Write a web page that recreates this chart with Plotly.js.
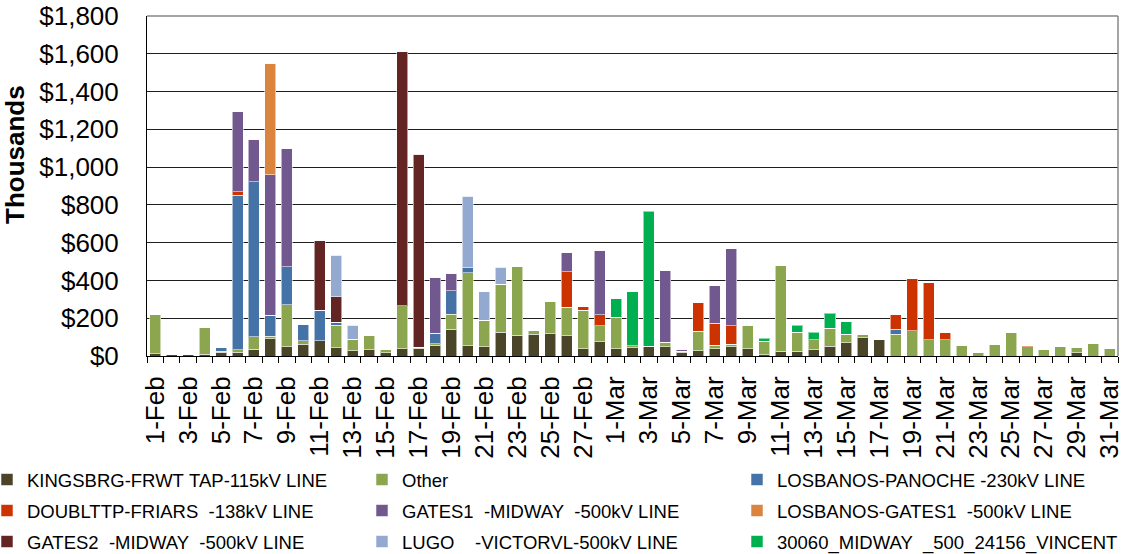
<!DOCTYPE html>
<html><head><meta charset="utf-8">
<script src="https://cdn.plot.ly/plotly-3.0.1.min.js"></script>
<style>html,body{margin:0;padding:0;background:#fff}#chart{width:1122px;height:554px}</style>
</head><body><div id="chart"></div>
<script>
const days = ['1-Feb','2-Feb','3-Feb','4-Feb','5-Feb','6-Feb','7-Feb','8-Feb','9-Feb','10-Feb',
'11-Feb','12-Feb','13-Feb','14-Feb','15-Feb','16-Feb','17-Feb','18-Feb','19-Feb','20-Feb',
'21-Feb','22-Feb','23-Feb','24-Feb','25-Feb','26-Feb','27-Feb','28-Feb',
'1-Mar','2-Mar','3-Mar','4-Mar','5-Mar','6-Mar','7-Mar','8-Mar','9-Mar','10-Mar',
'11-Mar','12-Mar','13-Mar','14-Mar','15-Mar','16-Mar','17-Mar','18-Mar','19-Mar','20-Mar',
'21-Mar','22-Mar','23-Mar','24-Mar','25-Mar','26-Mar','27-Mar','28-Mar','29-Mar','30-Mar','31-Mar'];

const kingsbrg = [11,6,7,10,19,21,35,92,49,62,
81,44,28,32,18,39,41,56,141,55,
49,127,109,115,118,108,39,76,
39,44,49,49,19,28,39,49,39,7,
25,25,34,51,71,97,90,0,0,0,
0,0,0,0,0,0,0,0,18,0,0];
const other = [211,3,2,143,6,11,67,12,223,19,
0,118,60,76,17,226,5,9,80,386,
140,252,364,21,173,151,203,83,
166,9,3,25,6,104,19,13,122,72,
453,100,51,97,45,19,0,115,134,85,
85,56,21,60,125,49,32,49,28,67,41];
const losbanosPanoche = [0,0,0,0,21,819,821,111,201,87,
162,16,0,0,0,0,0,55,125,27,
0,0,0,0,0,0,0,0,
0,0,0,0,0,0,0,0,0,0,
0,0,0,0,0,0,0,26,0,0,
0,0,0,0,0,0,0,0,0,0,0];
const doubltpFriars = [0,0,0,0,0,19,0,0,0,0,
0,0,0,0,0,0,0,0,0,0,
0,0,0,0,0,188,19,60,
0,0,0,0,0,149,115,97,0,0,
0,0,0,0,0,0,0,80,277,303,
39,0,0,0,0,9,0,0,0,0,0];
const gates1Midway = [0,0,0,0,0,424,224,745,627,0,
0,0,0,0,0,0,0,297,92,0,
0,0,0,0,0,102,0,342,
0,0,0,381,10,0,198,409,0,0,
0,0,0,0,0,0,0,0,0,0,
0,0,0,0,0,0,0,0,0,0,0];
const losbanosGates1 = [0,0,0,0,0,0,0,591,0,0,
0,0,0,0,0,0,0,0,0,0,
0,0,0,0,0,0,0,0,
0,0,0,0,0,0,0,0,0,0,
0,0,0,0,0,0,0,0,0,0,
0,0,0,0,0,0,0,0,0,0,0];
const gates2Midway = [0,0,0,0,0,0,0,0,0,0,
367,136,0,0,0,1346,1022,0,0,0,
0,0,0,0,0,0,0,0,
0,0,0,0,0,0,0,0,0,0,
0,0,0,0,0,0,0,0,0,0,
0,0,0,0,0,0,0,0,0,0,0];
const lugoVictorvl = [0,0,0,0,0,0,0,0,0,0,
0,219,74,0,0,0,0,0,0,379,
150,90,0,0,0,0,0,0,
0,0,0,0,0,0,0,0,0,0,
0,0,0,0,0,0,0,0,0,0,
0,0,0,0,0,0,0,0,0,0,0];
const midwayVincent = [0,0,0,0,0,0,0,0,0,0,
0,0,0,0,0,0,0,0,0,0,
0,0,0,0,0,0,0,0,
97,288,714,0,0,0,0,0,0,16,
0,37,40,78,66,0,0,0,0,0,
0,0,0,0,0,0,0,0,0,0,0];

const seriesNames = ['KINGSBRG-FRWT TAP-115kV LINE','Other','LOSBANOS-PANOCHE -230kV LINE',
'DOUBLTTP-FRIARS  -138kV LINE','GATES1  -MIDWAY  -500kV LINE','LOSBANOS-GATES1  -500kV LINE',
'GATES2  -MIDWAY  -500kV LINE','LUGO    -VICTORVL-500kV LINE','30060_MIDWAY  _500_24156_VINCENT'];
const seriesValues = [kingsbrg, other, losbanosPanoche, doubltpFriars, gates1Midway, losbanosGates1, gates2Midway, lugoVictorvl, midwayVincent];
const seriesColors = ['#4a4529','#8ba64f','#4573a7','#cc3300','#71588f','#db843d','#632523','#93a9cf','#00b050'];

// one legend per entry, laid out in a 3 x 3 grid (pixel positions converted to paper units)
const plotL = 147, plotW = 971, plotB = 356, plotH = 340;
const colLeft = [-13, 362, 737];
const rowMid = [480, 511, 542];
const legendKey = i => i === 0 ? 'legend' : 'legend' + (i + 1);

const traces = seriesNames.map((n,i)=>({
  type:'bar', name:n.replace(/ /g,'\u00a0'), x:days, y:seriesValues[i],
  marker:{color:seriesColors[i], line:{color:'rgba(255,255,255,0.55)', width:1}},
  legend:legendKey(i), hoverinfo:'x+y+name'
}));

const layout = {
  width:1122, height:554,
  margin:{l:plotL, r:4, t:16, b:198, pad:0, autoexpand:false},
  paper_bgcolor:'#fff', plot_bgcolor:'#fff',
  barmode:'stack', bargap:0.33,
  font:{family:'Liberation Sans, Arial, sans-serif', color:'#000'},
  showlegend:true,
  xaxis:{type:'category', tickvals:days, ticktext:days.map((d,i)=>i%2===0?d:''),
    tickangle:-90, tickson:'boundaries', ticks:'outside', ticklen:6, tickcolor:'#000', tickwidth:1,
    showline:true, linecolor:'#000', linewidth:1, showgrid:false, tickfont:{size:26},
    ticklabelstandoff:9, range:[-0.5,58.5], fixedrange:true, automargin:false},
  yaxis:{range:[0,1800], dtick:200, tick0:0, tickprefix:'$', tickformat:',',
    showgrid:true, gridcolor:'#1e1e1e', gridwidth:1, showline:true, linecolor:'#000', linewidth:1,
    zeroline:false, ticks:'', tickfont:{size:26}, ticklabelstandoff:22, fixedrange:true, automargin:false},
  shapes:[
    {type:'line', xref:'paper', yref:'paper', x0:1, x1:1, y0:0, y1:1, line:{color:'#878787', width:1.5}},
    {type:'line', xref:'paper', yref:'paper', x0:0, x1:1, y0:1, y1:1, line:{color:'#878787', width:1.5}}
  ],
  annotations:[{text:'<b>Thousands</b>', xref:'paper', yref:'paper', x:-0.136, y:0.594,
    xanchor:'center', yanchor:'middle', textangle:-90, showarrow:false, font:{size:26, color:'#000'}}]
};

seriesNames.forEach((n,i)=>{
  const col = i % 3, row = Math.floor(i / 3);
  layout[legendKey(i)] = {
    orientation:'h', xref:'paper', yref:'paper',
    x:(colLeft[col] - plotL) / plotW, xanchor:'left',
    y:(plotB - rowMid[row]) / plotH, yanchor:'middle',
    font:{size:18.5, family:'Liberation Sans, Arial, sans-serif', color:'#000'},
    bgcolor:'rgba(0,0,0,0)', borderwidth:0
  };
});

Plotly.newPlot('chart', traces, layout, {displayModeBar:false, staticPlot:true});
</script></body></html>
